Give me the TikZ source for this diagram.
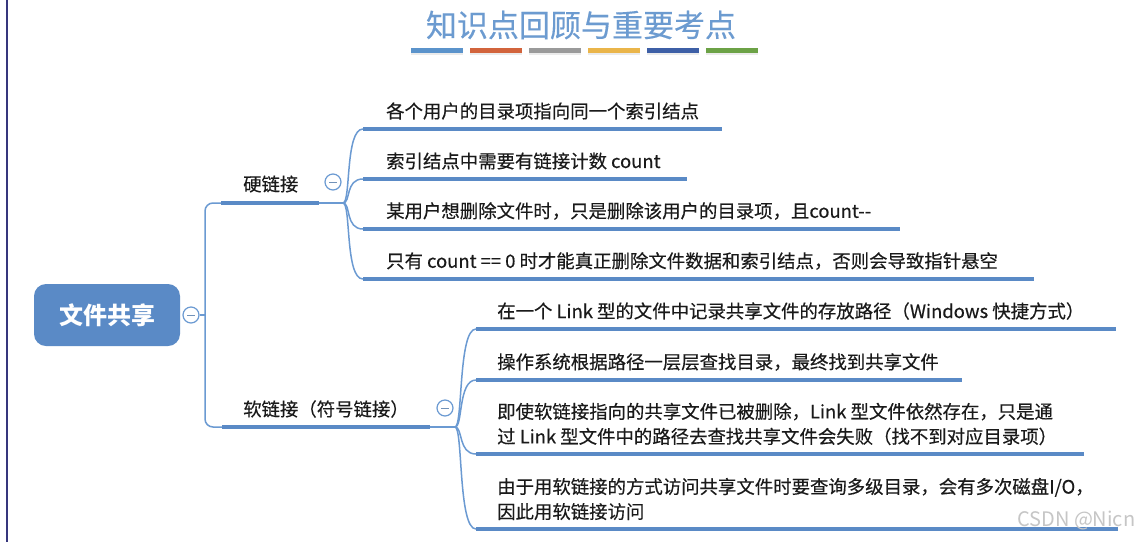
\documentclass[tikz,border=0pt]{standalone}
\usepackage{fontspec}
\usepackage{xcolor}
\newfontfamily\cjk{Noto Sans CJK SC}
\newfontfamily\cjkmid[FakeBold=0.35]{Noto Sans CJK SC}
\usetikzlibrary{positioning}
\definecolor{mapblue}{HTML}{5A8AC6}
\definecolor{lineblue}{HTML}{6B9AD2}
\definecolor{titleblue}{HTML}{6C9BD0}
\definecolor{inkgray}{HTML}{1A1A1A}
\definecolor{stripe1}{HTML}{5B93CB}
\definecolor{stripe2}{HTML}{D2643C}
\definecolor{stripe3}{HTML}{9A9A9A}
\definecolor{stripe4}{HTML}{EAB54A}
\definecolor{stripe5}{HTML}{3D5FA6}
\definecolor{stripe6}{HTML}{6CA246}
\tikzset{
	root/.style={rounded corners=12pt, fill=mapblue, text=white, minimum width=146pt, minimum height=62pt, font=\cjk\bfseries\fontsize{24}{28}\selectfont},
	fold/.style={circle, draw=lineblue, fill=white, line width=1.2pt, minimum size=16pt, inner sep=0pt,
		path picture={\draw[lineblue!70!gray, line width=1pt] ([xshift=-4pt]path picture bounding box.center) -- ([xshift=4pt]path picture bounding box.center);}},
	topic/.style={anchor=west, inner sep=0pt, text=inkgray, font=\cjkmid\fontsize{18.4}{25}\selectfont},
	leaf/.style={topic, align=left},
	bar/.style={draw=mapblue, line width=4.5pt},
	twig/.style={draw=lineblue, line width=1.5pt}
}

\begin{document}
\begin{tikzpicture}[x=1pt, y=-1pt]
	\fill[white] (0,0) rectangle (1146,542);
	\useasboundingbox (0,0) rectangle (1146,542);
	\draw[line width=2pt, color=gray!60!blue!70!black] (7,0) -- (7,542);

	% title and colour bars
	\node[font=\cjkmid\fontsize{31}{34}\selectfont, text=titleblue] (title) at (581,25) {知识点回顾与重要考点};
	\foreach \i in {1,...,6} {
		\fill[black!8] (352+59*\i,53) rectangle +(52,2);
		\fill[stripe\i] (352+59*\i,48) rectangle +(52,5);
	}

	\node[root] (share) at (107,315) {文件共享};
	\node[fold] (share-fold) at (191,315) {};
	\coordinate (trunk) at (205,315);

	\node[topic] (hard) at (243,184) {硬链接};
	\node[topic] (soft) at (243,409) {软链接（符号链接）};
	\node[fold] (hard-fold) at (333,182) {};
	\node[fold] (soft-fold) at (445,408) {};

	\coordinate (hard-l) at (221,203);
	\coordinate (hard-r) at (319,203);
	\coordinate (hard-b) at (343,203);
	\coordinate (soft-l) at (222,427);
	\coordinate (soft-r) at (430,427);
	\coordinate (soft-b) at (455,427);

	\draw[twig] (share-fold) -- (trunk);
	\draw[twig, rounded corners=8pt] (hard-l) -| (trunk) |- (soft-l);
	\draw[bar] (hard-l) -- (hard-r);
	\draw[twig] (hard-r) -- (hard-b);
	\draw[bar] (soft-l) -- (soft-r);
	\draw[twig] (soft-r) -- (soft-b);

	% hard link
	\node[leaf] (hard1) at (386,111) {各个用户的目录项指向同一个索引结点};
	\node[leaf] (hard2) at (386,161) {索引结点中需要有链接计数 count};
	\node[leaf] (hard3) at (386,211) {某用户想删除文件时，只是删除该用户的目录项，且count-\kern0pt-};
	\node[leaf] (hard4) at (386,261) {只有 count == 0 时才能真正删除文件数据和索引结点，否则会导致指针悬空};
	\foreach \n/\y/\e in {hard1/129/722, hard2/179/687, hard3/229/900, hard4/279/1034} {
		\coordinate (\n-l) at (363,\y);
		\draw[twig] (hard-b) .. controls +(8,0) and +(-18,0) .. (\n-l);
		\draw[bar] (\n-l) -- (\e,\y);
	}

	% soft link
	\node[leaf] (soft1) at (497,311) {在一个 Link 型的文件中记录共享文件的存放路径（Windows 快捷方式）};
	\node[leaf] (soft2) at (497,362) {操作系统根据路径一层层查找目录，最终找到共享文件};
	\node[leaf] (soft3) at (497,424) {即使软链接指向的共享文件已被删除，Link 型文件依然存在，只是通\\过 Link 型文件中的路径去查找共享文件会失败（找不到对应目录项）};
	\node[leaf] (soft4) at (497,499) {由于用软链接的方式访问共享文件时要查询多级目录，会有多次磁盘I/O，\\因此用软链接访问};
	\foreach \n/\y/\e in {soft1/329/1116, soft2/380/962, soft3/454/1084, soft4/529/1118} {
		\coordinate (\n-l) at (476,\y);
		\draw[twig] (soft-b) .. controls +(8,0) and +(-18,0) .. (\n-l);
		\draw[bar] (\n-l) -- (\e,\y);
	}

	\node[anchor=west, inner sep=0pt, text=gray!45, font=\cjk\fontsize{20}{20}\selectfont] (mark) at (1017,520) {CSDN @Nicn};
\end{tikzpicture}
\end{document}
